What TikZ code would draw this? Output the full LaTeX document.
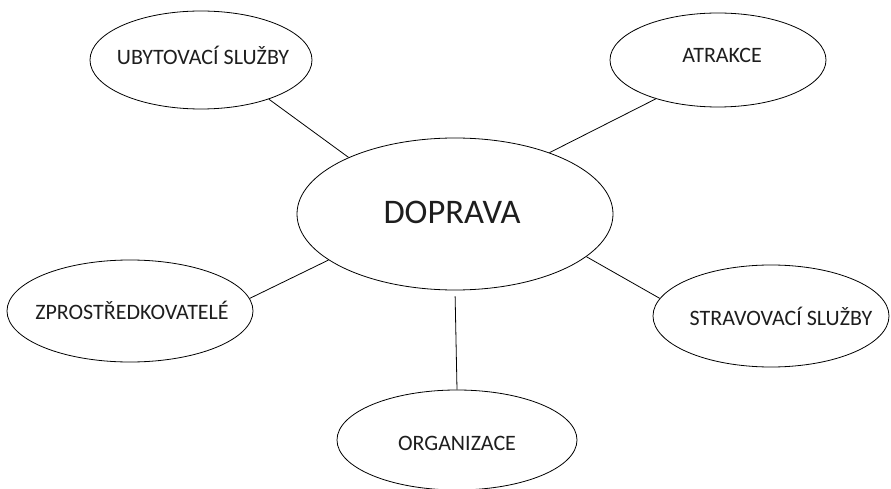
\documentclass[tikz,border=0pt]{standalone}
\usepackage{fontspec}
\setmainfont{Carlito}
\usetikzlibrary{shapes.geometric}
\definecolor{ink}{RGB}{30,30,30}
\tikzset{
  bubble/.style={ellipse, draw=black, line width=0.8pt, inner sep=0pt},
  caption/.style={anchor=base, inner sep=0pt, text=ink, font=\fontsize{22}{24}\selectfont},
  bigcaption/.style={anchor=base, inner sep=0pt, text=ink, font=\fontsize{34.5}{36}\selectfont},
  link/.style={draw=black, line width=0.8pt}
}
\begin{document}
\begin{tikzpicture}[x=1pt, y=-1pt]
  \useasboundingbox[fill=white] (0,0) rectangle (891,489);

  % ellipses
  \node[bubble, minimum width=316pt, minimum height=152pt] (dop) at (455,214) {};
  \node[bubble, minimum width=222pt, minimum height=98pt]  (uby) at (201,60) {};
  \node[bubble, minimum width=216pt, minimum height=94pt]  (atr) at (718,60) {};
  \node[bubble, minimum width=246pt, minimum height=102pt] (zpr) at (130,311) {};
  \node[bubble, minimum width=236pt, minimum height=102pt] (str) at (771,316) {};
  \node[bubble, minimum width=240pt, minimum height=100pt] (org) at (457,440) {};

  % labels
  \node[bigcaption] (tdop) at (452,223) {DOPRAVA};
  \node[caption] (tuby) at (203,65) {UBYTOVACÍ SLUŽBY};
  \node[caption] (tatr) at (722,63) {ATRAKCE};
  \node[caption] (tzpr) at (132,319) {ZPROSTŘEDKOVATELÉ};
  \node[caption] (tstr) at (781,325) {STRAVOVACÍ SLUŽBY};
  \node[caption] (torg) at (457,450) {ORGANIZACE};

  % connectors
  \draw[link] (uby.-30) -- (dop.152);
  \draw[link] (atr.-148) -- (dop.33);
  \draw[link] (zpr.6) -- (dop.-160);
  \draw[link] (str.171) -- (dop.-18);
  \draw[link, shorten <=6pt] (dop.-90) -- (org.90);
\end{tikzpicture}
\end{document}
